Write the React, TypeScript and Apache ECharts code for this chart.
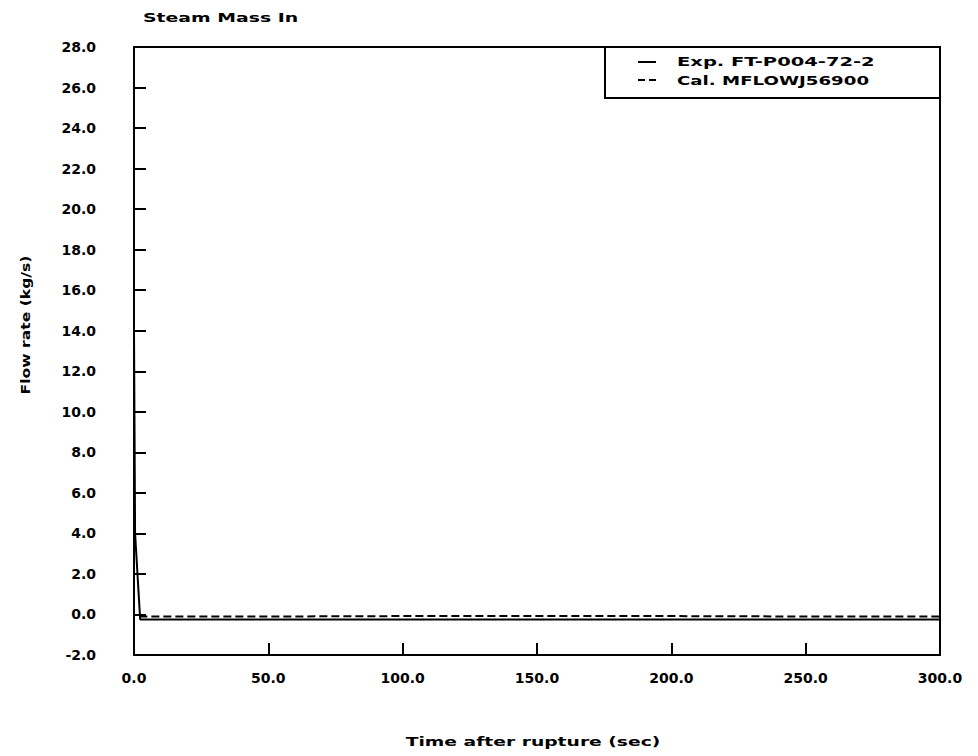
import React, { useEffect, useRef } from "react";
import * as echarts from "echarts";

const titleText = "Steam Mass In";
const xName = "Time after rupture (sec)";
const yName = "Flow rate (kg/s)";
const seriesNames = ["Exp. FT-P004-72-2", "Cal. MFLOWJ56900"];

// Experimental (solid)
const expTime = [0, 0.4, 2.3, 50, 100, 150, 200, 250, 300];
const expFlow = [14.0, 4.0, -0.25, -0.25, -0.25, -0.25, -0.25, -0.25, -0.25];
// Calculated (dashed)
const calTime = [2.0, 50, 100, 150, 200, 250, 300];
const calFlow = [-0.1, -0.1, -0.08, -0.08, -0.08, -0.1, -0.1];

const FONT = "DejaVu Sans";

export default function App() {
  const ref = useRef<HTMLDivElement>(null);
  useEffect(() => {
    if (!ref.current) return;
    const chart = echarts.init(ref.current, undefined, { renderer: "svg" });
    const fmt = (v: number) => v.toFixed(1);
    const axisLabel = { color: "#000", fontFamily: FONT, fontWeight: "bold" as const, fontSize: 14 };
    const line = { show: true, onZero: false, lineStyle: { color: "#000", width: 2 } };
    chart.setOption({
      animation: false,
      backgroundColor: "#fff",
      grid: { left: 134, right: 38, top: 47, bottom: 101, containLabel: false },
      xAxis: [
        {
          type: "value",
          min: 0,
          max: 300,
          interval: 50,
          axisLine: line,
          axisTick: { show: true, inside: true, length: 12, lineStyle: { color: "#000", width: 2 } },
          splitLine: { show: false },
          axisLabel: { ...axisLabel, margin: 16, formatter: fmt },
        },
        {
          type: "value",
          position: "top",
          min: 0,
          max: 300,
          axisLine: line,
          axisTick: { show: false },
          axisLabel: { show: false },
          splitLine: { show: false },
        },
      ],
      yAxis: [
        {
          type: "value",
          min: -2,
          max: 28,
          interval: 2,
          axisLine: line,
          axisTick: { show: true, inside: true, length: 12, lineStyle: { color: "#000", width: 2 } },
          splitLine: { show: false },
          axisLabel: { ...axisLabel, margin: 38, formatter: fmt },
        },
        {
          type: "value",
          position: "right",
          min: -2,
          max: 28,
          axisLine: line,
          axisTick: { show: false },
          axisLabel: { show: false },
          splitLine: { show: false },
        },
      ],
      series: [
        {
          name: seriesNames[0],
          type: "line",
          xAxisIndex: 0,
          yAxisIndex: 0,
          showSymbol: false,
          data: expTime.map((t, i) => [t, expFlow[i]]),
          lineStyle: { color: "#000", width: 2, type: "solid" },
        },
        {
          name: seriesNames[1],
          type: "line",
          xAxisIndex: 0,
          yAxisIndex: 0,
          showSymbol: false,
          data: calTime.map((t, i) => [t, calFlow[i]]),
          lineStyle: { color: "#000", width: 2, type: [8, 4] },
        },
      ],
      graphic: [
        {
          type: "text",
          x: 143,
          y: 18,
          scaleX: 1.45,
          style: { text: titleText, fill: "#000", font: `bold 13px "${FONT}"`, textAlign: "left", textVerticalAlign: "middle" },
        },
        {
          type: "text",
          x: 533,
          y: 742,
          scaleX: 1.44,
          style: { text: xName, fill: "#000", font: `bold 13px "${FONT}"`, textAlign: "center", textVerticalAlign: "middle" },
        },
        {
          type: "text",
          x: 25,
          y: 325,
          rotation: Math.PI / 2,
          scaleX: 1.2,
          style: { text: yName, fill: "#000", font: `bold 13px "${FONT}"`, textAlign: "center", textVerticalAlign: "middle" },
        },
        {
          type: "rect",
          shape: { x: 605, y: 47, width: 335, height: 51 },
          style: { fill: "#fff", stroke: "#000", lineWidth: 2 },
          z: 10,
        },
        {
          type: "line",
          shape: { x1: 638, y1: 62, x2: 656, y2: 62 },
          style: { stroke: "#000", lineWidth: 2 },
          z: 11,
        },
        {
          type: "line",
          shape: { x1: 638, y1: 80, x2: 656, y2: 80 },
          style: { stroke: "#000", lineWidth: 2, lineDash: [7, 4] },
          z: 11,
        },
        {
          type: "text",
          x: 677,
          y: 62,
          scaleX: 1.5,
          z: 11,
          style: { text: seriesNames[0], fill: "#000", font: `bold 13px "${FONT}"`, textAlign: "left", textVerticalAlign: "middle" },
        },
        {
          type: "text",
          x: 677,
          y: 80,
          scaleX: 1.4,
          z: 11,
          style: { text: seriesNames[1], fill: "#000", font: `bold 13px "${FONT}"`, textAlign: "left", textVerticalAlign: "middle" },
        },
      ],
    });
    return () => chart.dispose();
  }, []);
  return (
    <div
      ref={ref}
      style={{ position: "fixed", left: 0, top: 0, width: 978, height: 756, background: "#fff" }}
    />
  );
}
